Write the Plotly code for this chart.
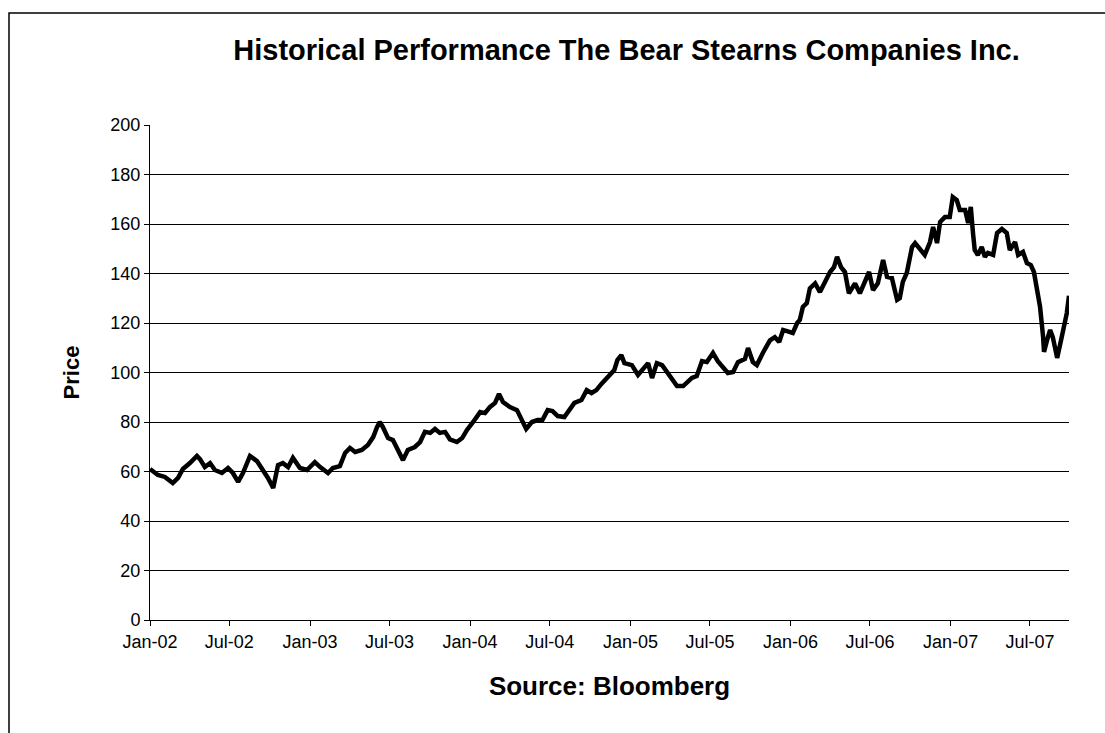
import plotly.graph_objects as go

# ---- data (weekly-ish closes) ----
dates = [
    "2002-01-01", "2002-01-19", "2002-02-04", "2002-02-22", "2002-03-06", "2002-03-17", "2002-04-02",
    "2002-04-18", "2002-04-25", "2002-05-06", "2002-05-18", "2002-05-29", "2002-06-14", "2002-06-28",
    "2002-07-09", "2002-07-21", "2002-08-01", "2002-08-17", "2002-09-02", "2002-09-13", "2002-09-27",
    "2002-10-09", "2002-10-20", "2002-10-31", "2002-11-12", "2002-11-23", "2002-12-09", "2002-12-25",
    "2003-01-12", "2003-01-24", "2003-02-11", "2003-02-22", "2003-03-10", "2003-03-22", "2003-04-02",
    "2003-04-14", "2003-04-29", "2003-05-13", "2003-05-25", "2003-06-03", "2003-06-09", "2003-06-16",
    "2003-06-28", "2003-07-09", "2003-07-21", "2003-08-01", "2003-08-12", "2003-08-28", "2003-09-09",
    "2003-09-20", "2003-10-02", "2003-10-13", "2003-10-24", "2003-11-05", "2003-11-16", "2003-12-02",
    "2003-12-14", "2003-12-25",
    "2004-01-08", "2004-01-24", "2004-02-04", "2004-02-15", "2004-02-27", "2004-03-07", "2004-03-16",
    "2004-04-01", "2004-04-17", "2004-04-28", "2004-05-08", "2004-05-21", "2004-06-03", "2004-06-14",
    "2004-06-26", "2004-07-07", "2004-07-19", "2004-08-03", "2004-08-15", "2004-08-26", "2004-09-11",
    "2004-09-23", "2004-10-04", "2004-10-15", "2004-10-27", "2004-11-07", "2004-11-14", "2004-11-25",
    "2004-12-02", "2004-12-11", "2004-12-18",
    "2005-01-04", "2005-01-18", "2005-01-29", "2005-02-10", "2005-02-19", "2005-03-02", "2005-03-14",
    "2005-03-25", "2005-04-05", "2005-04-17", "2005-05-01", "2005-05-10", "2005-05-21", "2005-06-01",
    "2005-06-13", "2005-06-24", "2005-07-08", "2005-07-19", "2005-07-31", "2005-08-11", "2005-08-23",
    "2005-09-03", "2005-09-19", "2005-09-26", "2005-10-07", "2005-10-16", "2005-10-30", "2005-11-15",
    "2005-11-26", "2005-12-06", "2005-12-15", "2005-12-26",
    "2006-01-06", "2006-01-16", "2006-01-22", "2006-01-29", "2006-02-07", "2006-02-14", "2006-02-26",
    "2006-03-09", "2006-03-20", "2006-04-01", "2006-04-10", "2006-04-17", "2006-04-26", "2006-05-05",
    "2006-05-14", "2006-05-28", "2006-06-08", "2006-06-20", "2006-06-29", "2006-07-08", "2006-07-19",
    "2006-07-31", "2006-08-09", "2006-08-20", "2006-09-01", "2006-09-07", "2006-09-14", "2006-09-23",
    "2006-10-05", "2006-10-12", "2006-10-23", "2006-11-03", "2006-11-15", "2006-11-22", "2006-12-01",
    "2006-12-08", "2006-12-19", "2006-12-30",
    "2007-01-06", "2007-01-15", "2007-01-22", "2007-02-03", "2007-02-10", "2007-02-16", "2007-02-21",
    "2007-02-25", "2007-03-04", "2007-03-13", "2007-03-20", "2007-03-27", "2007-04-08", "2007-04-17",
    "2007-04-28", "2007-05-09", "2007-05-16", "2007-05-28", "2007-06-04", "2007-06-15", "2007-06-24",
    "2007-07-03", "2007-07-10", "2007-07-17", "2007-07-24", "2007-07-31", "2007-08-02", "2007-08-09",
    "2007-08-16", "2007-08-22", "2007-09-01", "2007-09-10", "2007-09-16", "2007-09-23", "2007-09-28",
]

prices = [
    61, 58.6, 57.8, 55.3, 57.4, 61, 63.4, 66.3, 65, 61.8, 63.4, 60.6, 59.4, 61.4,
    59.4, 55.8, 59.4, 66.3, 64.2, 61.4, 57.4, 53.3, 62.6, 63.4, 61.8, 65.5, 61.4, 60.6,
    63.8, 61.8, 59.4, 61.4, 62.2, 67.5, 69.5, 67.9, 68.7, 70.7, 73.9, 78, 80, 78,
    73.5, 72.7, 68.7, 64.6, 68.7, 69.9, 71.9, 76, 75.6, 77.2, 75.6, 76, 73, 71.9, 73.5, 76.8,
    80, 84, 83.6, 86, 87.7, 91.3, 88.1, 86, 84.8, 80.8, 77.2, 80, 80.8, 80.8,
    84.8, 84.4, 82.4, 82, 84.8, 87.7, 88.9, 92.9, 91.7, 92.9, 95.5, 97.5, 99, 101, 105, 107, 103.8,
    103, 99, 101, 103.8, 97.8, 103.8, 103, 100.2, 97.8, 94.5, 94.5, 96.2, 97.8, 98.6,
    104.6, 104.2, 107.9, 104.6, 101.8, 99.8, 100.2, 104.2, 105.5, 109.9, 104.2, 103, 108, 113,
    114.3, 112.3, 117.2, 116.4,
    116, 120, 121.2, 126.5, 128, 134, 136, 132.5, 136.6, 140.6, 142.6, 146.7, 142.6, 140.6,
    132, 136, 132, 137.4, 140.6, 133.3, 136, 145.5, 138.6, 138.2, 129.3, 130, 136.6, 140.2,
    150.7, 152.3, 149.5, 147.5, 152.7, 158.8, 152.3, 160.8, 162.8, 162.8,
    170.9, 169.7, 165.7, 165.7, 160.4, 166.9, 156.4, 149.5, 147.5, 150.7, 146.7, 148.3, 147.5, 156.4,
    158, 156.4, 149.5, 152.7, 147.5, 148.7, 144.2, 143.4, 140.6, 134.5, 126.5, 114.3, 108.3, 113.1,
    117.2, 114.3, 105.9, 113.1, 118.4, 124, 131,
]

title_text = "Historical Performance The Bear Stearns Companies Inc."
x_title = "Source: Bloomberg"
y_title = "Price"
x_range = ["2002-01-01", "2007-09-28"]
y_range = [0, 200]

FONT = "Liberation Sans, Arial, sans-serif"

fig = go.Figure(
    go.Scatter(
        x=dates, y=prices, mode="lines",
        line=dict(color="black", width=4.5),
        showlegend=False, hoverinfo="x+y",
    )
)

W, H = 1105, 733
L, R, T, B = 150, 36, 125, 113

fig.update_layout(
    width=W, height=H,
    margin=dict(l=L, r=R, t=T, b=B, autoexpand=False),
    paper_bgcolor="white", plot_bgcolor="white",
    font=dict(family=FONT, color="black", size=18),
    title=dict(
        text=title_text, x=0.567, xref="container", xanchor="center",
        y=1 - 50 / H, yref="container", yanchor="middle",
        font=dict(family=FONT, size=29, weight="bold", color="black"),
    ),
    xaxis=dict(
        type="date", range=x_range, tickformat="%b-%y",
        tick0="2002-01-01", dtick="M6",
        showgrid=False, showline=True, linecolor="black", linewidth=1,
        ticks="outside", ticklen=5, tickcolor="black",
        tickfont=dict(size=18),
        title=dict(text=x_title, standoff=26,
                   font=dict(size=26, weight="bold")),
        zeroline=False,
    ),
    yaxis=dict(
        range=y_range, dtick=20, tick0=0,
        showgrid=True, gridcolor="black", gridwidth=1,
        showline=True, linecolor="black", linewidth=1,
        ticks="outside", ticklen=5, tickcolor="black",
        tickfont=dict(size=18),
        title=dict(text=y_title, standoff=24,
                   font=dict(size=22, weight="bold")),
        zeroline=False,
    ),
    shapes=[
        dict(type="rect", xref="paper", yref="paper",
             x0=(9 - L) / (W - L - R), x1=(W + 10 - L) / (W - L - R),
             y0=-(B + 10) / (H - T - B), y1=1 + (T - 13) / (H - T - B),
             line=dict(color="black", width=1.5), fillcolor="rgba(0,0,0,0)",
             layer="below"),
    ],
)

fig.write_html(
    "out.html",
    config={"displayModeBar": False},
    post_script="document.body.style.margin='0';document.body.style.overflow='hidden';",
)
